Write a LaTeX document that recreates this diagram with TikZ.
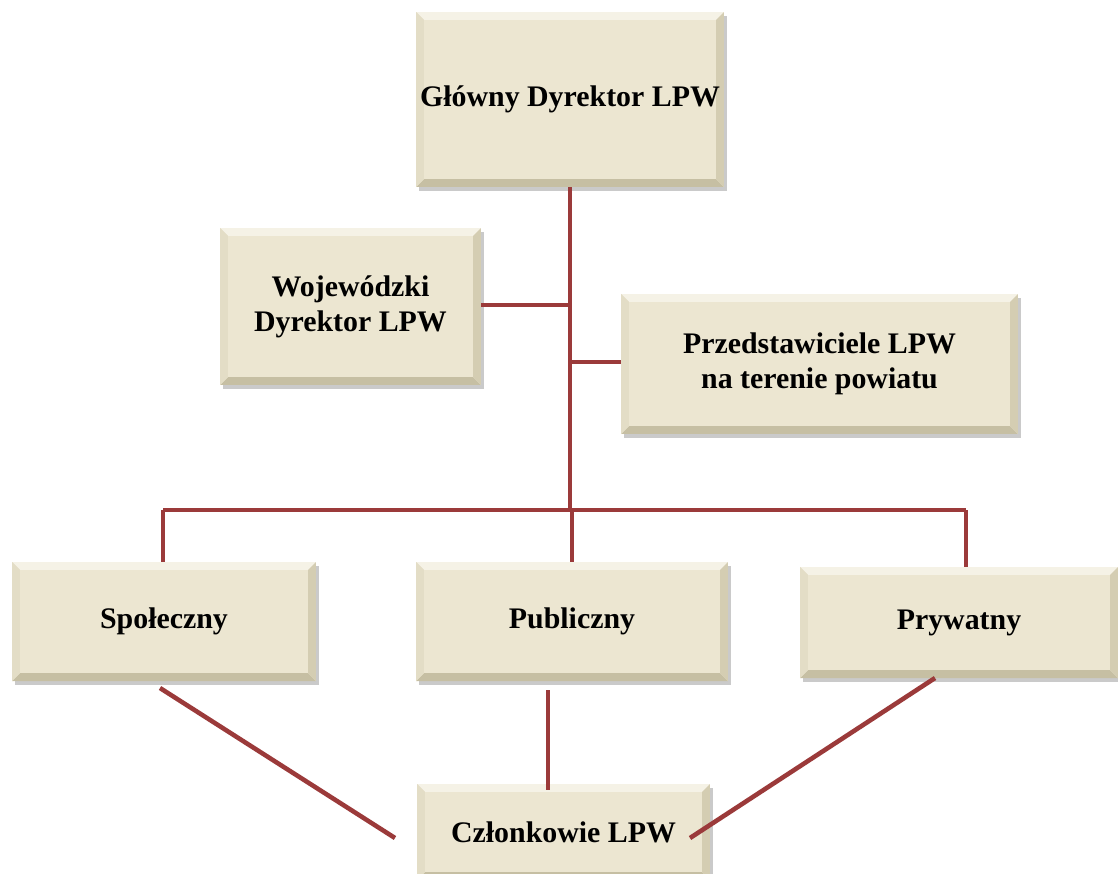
\documentclass[tikz,border=0pt]{standalone}
\usepackage{fontspec}
\setmainfont{Liberation Serif}
\usetikzlibrary{shadows}
\definecolor{boxfill}{HTML}{ECE6D1}
\definecolor{bevtop}{HTML}{F5F2E6}
\definecolor{bevleft}{HTML}{E3DDC6}
\definecolor{bevright}{HTML}{D4CDB2}
\definecolor{bevbot}{HTML}{C6BFA3}
\definecolor{linkred}{HTML}{9B3A3A}
\tikzset{
  orgbox/.style={rectangle, fill=boxfill, inner sep=0pt, align=center,
    font=\fontsize{17}{20}\selectfont\bfseries,
    drop shadow={shadow xshift=1.5pt, shadow yshift=-2pt, opacity=0.35, fill=black!60},
    path picture={
      \def\b{4.5pt}
      \coordinate (NW) at (path picture bounding box.north west);
      \coordinate (NE) at (path picture bounding box.north east);
      \coordinate (SW) at (path picture bounding box.south west);
      \coordinate (SE) at (path picture bounding box.south east);
      \fill[bevtop] (NW) -- (NE) -- ([xshift=-\b,yshift=-\b]NE) -- ([xshift=\b,yshift=-\b]NW) -- cycle;
      \fill[bevbot] (SW) -- (SE) -- ([xshift=-\b,yshift=\b]SE) -- ([xshift=\b,yshift=\b]SW) -- cycle;
      \fill[bevleft] (NW) -- ([xshift=\b,yshift=-\b]NW) -- ([xshift=\b,yshift=\b]SW) -- (SW) -- cycle;
      \fill[bevright] (NE) -- ([xshift=-\b,yshift=-\b]NE) -- ([xshift=-\b,yshift=\b]SE) -- (SE) -- cycle;
    }},
  link/.style={draw=linkred, line width=2.6pt}
}
\begin{document}
\begin{tikzpicture}[x=0.02cm, y=-0.02cm]
\path[use as bounding box] (0,0) rectangle (1118,873);
\clip (0,0) rectangle (1118,873);
\node[orgbox, minimum width=6.16cm, minimum height=3.5cm] (glowny) at (570,99.5) {Główny Dyrektor LPW};
\node[orgbox, minimum width=5.22cm, minimum height=3.14cm] (woj) at (350.5,306.5) {Wojewódzki\\Dyrektor LPW};
\node[orgbox, minimum width=7.94cm, minimum height=2.8cm] (przed) at (819.5,364) {Przedstawiciele LPW\\na terenie powiatu};
\node[orgbox, minimum width=6.08cm, minimum height=2.38cm] (spol) at (164,621.5) {Społeczny};
\node[orgbox, minimum width=6.24cm, minimum height=2.38cm] (publ) at (572,621.5) {Publiczny};
\node[orgbox, minimum width=6.36cm, minimum height=2.22cm] (pryw) at (959,622.5) {Prywatny};
\node[orgbox, minimum width=5.86cm, minimum height=1.92cm] (czl) at (563.5,832) {Członkowie LPW};

\coordinate (bus) at (570,510);
\coordinate (wojj) at (570,305);
\coordinate (przj) at (570,362);
\coordinate (busL) at (163,510);
\coordinate (busM) at (572,510);
\coordinate (busR) at (966,510);
\coordinate (spolStart) at (160,688);
\coordinate (spolEnd) at (395,838);
\coordinate (pubStart) at (548,690);
\coordinate (pubEnd) at (548,790);
\coordinate (prywStart) at (935,678);
\coordinate (prywEnd) at (690,838);

\draw[link] (glowny.south) -- (bus);
\draw[link] (woj.east |- wojj) -- (wojj);
\draw[link] (przj) -- (przed.west |- przj);
\draw[link] (busL) -- (busR);
\draw[link] (busL) -- (busL |- spol.north);
\draw[link] (busM) -- (busM |- publ.north);
\draw[link] (busR) -- (busR |- pryw.north);
\draw[link] (spolStart) -- (spolEnd);
\draw[link] (pubStart) -- (pubEnd);
\draw[link] (prywStart) -- (prywEnd);
\end{tikzpicture}
\end{document}
